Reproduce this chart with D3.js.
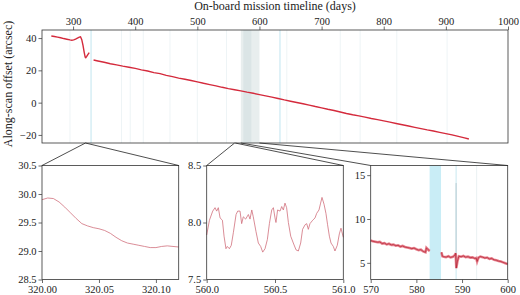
<!DOCTYPE html>
<html>
<head>
<meta charset="utf-8">
<script src="https://cdn.jsdelivr.net/npm/d3@7"></script>
<style>
  body { margin: 0; background: #fff; }
  svg { display: block; }
  text { font-family: "Liberation Serif", "DejaVu Serif", serif; fill: #222; }
  .axis path { display: none; }
  .axis line { stroke: #444; stroke-width: 0.8; }
</style>
</head>
<body>
<div id="chart"></div>
<script>
// top panel: full mission
const topDays = [265, 270, 275, 280, 285, 290, 295, 298, 301, 304, 307, 310, 312, 314, 316, 318, 319.5, 320.5, 322, 324, 326,
  null,
  333, 340, 350, 360, 370, 380, 390, 400, 410, 420, 430, 440, 450, 460, 470, 480, 490, 500, 510, 520, 530, 540, 550, 560,
  570, 580, 590, 600, 610, 620, 630, 640, 650, 660, 670, 680, 690, 700, 710, 720, 730, 740, 750, 760, 770, 780, 790, 800,
  810, 820, 830, 840, 850, 860, 870, 880, 890, 900, 910, 920, 930, 937];
const topOffset = [41.3, 41.0, 40.6, 40.2, 39.7, 39.3, 38.9, 38.7, 38.9, 39.4, 40.0, 40.6, 40.8, 39.0, 35.5, 31.0, 28.2, 27.8, 28.6, 29.9, 31.0,
  null,
  26.4, 25.8, 25.0, 24.1, 23.4, 22.6, 21.9, 21.2, 20.3, 19.6, 18.6, 18.0, 16.9, 16.1, 15.2, 14.5, 13.7, 12.9, 12.0, 11.2, 10.4, 9.5, 8.7, 8.0,
  7.3, 6.5, 5.8, 5.0, 4.2, 3.4, 2.6, 1.7, 0.9, 0.1, -0.7, -1.5, -2.4, -3.2, -4.1, -4.9, -5.8, -6.7, -7.5, -8.2, -9.0, -9.8, -10.5, -11.3,
  -12.1, -12.9, -13.7, -14.5, -15.3, -16.1, -16.9, -17.6, -18.4, -19.2, -20.0, -20.9, -21.8, -22.5];
const topXTicks = [300, 400, 500, 600, 700, 800, 900, 1000];
const topYTicks = [-20, 0, 20, 40];
const eventDays = [295, 378, 392, 413, 456, 500, 547, 644, 730, 762, 821, 902];
const blueDays = [329, 633];

// zoom 1
const z1Days = [320.000, 320.005, 320.010, 320.015, 320.020, 320.025, 320.030, 320.035, 320.040, 320.045, 320.050, 320.055,
  320.060, 320.065, 320.070, 320.075, 320.080, 320.085, 320.090, 320.095, 320.100, 320.105, 320.110, 320.115, 320.120];
const z1Offset = [29.90, 29.93, 29.92, 29.86, 29.77, 29.67, 29.57, 29.48, 29.44, 29.41, 29.39, 29.36,
  29.31, 29.24, 29.18, 29.14, 29.12, 29.10, 29.08, 29.06, 29.06, 29.08, 29.09, 29.08, 29.07];
const z1XTicks = [320.00, 320.05, 320.10];
const z1YTicks = [28.5, 29.0, 29.5, 30.0, 30.5];

// zoom 2
const z2Days = [560.000, 560.020, 560.044, 560.061, 560.073, 560.085, 560.098, 560.115, 560.127, 560.141, 560.151, 560.166,
  560.180, 560.195, 560.215, 560.227, 560.244, 560.256, 560.268, 560.285, 560.305, 560.317, 560.330, 560.341, 560.361,
  560.378, 560.395, 560.410, 560.427, 560.444, 560.459, 560.476, 560.488, 560.500, 560.507, 560.519, 560.537, 560.549,
  560.561, 560.573, 560.585, 560.598, 560.615, 560.634, 560.654, 560.671, 560.688, 560.702, 560.720, 560.732, 560.744,
  560.756, 560.776, 560.793, 560.805, 560.822, 560.834, 560.844, 560.859, 560.873, 560.885, 560.898, 560.910, 560.927,
  560.939, 560.956, 560.971, 560.983, 561.000];
const z2Offset = [7.89, 8.02, 8.10, 8.13, 8.10, 8.13, 8.04, 8.02, 7.88, 7.77, 7.79, 7.77,
  7.80, 7.91, 8.07, 8.10, 8.10, 7.99, 8.05, 8.03, 8.07, 8.03, 8.11, 8.05, 7.92,
  7.82, 7.79, 7.74, 7.77, 7.85, 7.99, 8.11, 8.13, 8.04, 8.00, 8.11, 8.10, 8.14,
  8.11, 8.17, 8.13, 8.00, 7.88, 7.82, 7.76, 7.75, 7.82, 7.94, 7.98, 7.99, 7.94,
  7.99, 8.02, 8.04, 8.08, 8.11, 8.17, 8.22, 8.16, 8.08, 7.98, 7.88, 7.82, 7.79,
  7.75, 7.80, 7.90, 7.95, 7.87];
const z2XTicks = [560.0, 560.5, 561.0];
const z2YTicks = [7.5, 8.0, 8.5];

// zoom 3
const z3Days = [570.0, 570.5, 571.0, 571.5, 572.0, 572.5, 573.0, 573.5, 574.0, 574.5, 575.0, 575.5, 576.0, 576.5, 577.0,
  577.5, 578.0, 578.5, 579.0, 579.5, 580.0, 580.5, 581.0, 581.5, 582.0, 582.2, 582.5, 582.9, null,
  585.5, 585.7, 586.0, 586.5, 587.0, 587.5, 588.0, 588.4, 588.6, 588.75, 589.0, 589.3, 589.8, 590.3, 590.8, 591.3,
  591.8, 592.3, 592.8, 593.1, 593.3, 593.6, 594.0, 594.5, 595.0, 595.5, 596.0, 596.5, 597.0, 597.5, 598.0, 598.5,
  599.0, 599.5, 600.0];
const z3Offset = [7.55, 7.45, 7.40, 7.35, 7.38, 7.20, 7.25, 7.10, 7.18, 7.05, 7.08, 6.95, 7.00, 6.85, 6.92,
  6.80, 6.75, 6.70, 6.62, 6.68, 6.55, 6.45, 6.50, 6.30, 6.20, 6.70, 6.55, 6.35, null,
  6.20, 5.75, 5.70, 5.65, 5.75, 5.62, 5.70, 5.85, 6.10, 4.40, 5.20, 5.75, 5.70, 5.78, 5.65, 5.70,
  5.60, 5.62, 5.50, 5.55, 5.15, 5.60, 5.72, 5.65, 5.55, 5.60, 5.45, 5.50, 5.35, 5.30, 5.20, 5.15,
  5.05, 4.95, 4.85];
const z3XTicks = [570, 580, 590, 600];
const z3YTicks = [5, 10, 15];

const width = 520, height = 295;
const svg = d3.select("#chart").append("svg")
  .attr("width", width).attr("height", height);

const red = "#d42a3c";

const styleTicks = g => g.selectAll("text")
  .attr("font-family", "'Liberation Serif', serif")
  .attr("font-size", 10.5)
  .attr("fill", "#222");

// top panel
const x = d3.scaleLinear().domain([250, 1000]).range([42, 508]);
const y = d3.scaleLinear().domain([-25, 45]).range([143, 30]);

svg.selectAll(".band")
  .data([[570, 600, "#e8eeee"], [574, 587, "#dbe5e6"]])
  .join("rect")
  .attr("x", d => x(d[0]))
  .attr("y", y.range()[1])
  .attr("width", d => x(d[1]) - x(d[0]))
  .attr("height", y.range()[0] - y.range()[1])
  .attr("fill", d => d[2]);

svg.selectAll(".evt")
  .data(eventDays)
  .join("line")
  .attr("x1", d => x(d)).attr("x2", d => x(d))
  .attr("y1", 30).attr("y2", 143)
  .attr("stroke", "#eef4f6").attr("stroke-width", 1);

svg.selectAll(".blue")
  .data(blueDays)
  .join("line")
  .attr("x1", d => x(d)).attr("x2", d => x(d))
  .attr("y1", 30).attr("y2", 143)
  .attr("stroke", "#d6eef5").attr("stroke-width", 1.5);

const topPts = topDays.map((d, i) => [d, topOffset[i]]);
const topLine = d3.line()
  .defined(d => d[0] !== null)
  .x(d => x(d[0])).y(d => y(d[1]));

svg.append("path")
  .attr("d", topLine(topPts))
  .attr("fill", "none").attr("stroke", red).attr("stroke-width", 1.4);

svg.append("rect")
  .attr("x", 42).attr("y", 30).attr("width", 466).attr("height", 113)
  .attr("fill", "none").attr("stroke", "#333").attr("stroke-width", 0.8);

svg.append("g").attr("class", "axis")
  .attr("transform", "translate(0,30)")
  .call(d3.axisTop(x).tickValues(topXTicks).tickFormat(d3.format("d")).tickSize(3.5).tickPadding(2).tickSizeOuter(0))
  .call(styleTicks);

svg.append("g").attr("class", "axis")
  .attr("transform", "translate(42,0)")
  .call(d3.axisLeft(y).tickValues(topYTicks).tickSize(3.5).tickPadding(2).tickFormat(d => d < 0 ? "\u2212" + Math.abs(d) : d))
  .call(styleTicks);

svg.append("text")
  .attr("x", 275).attr("y", 10)
  .attr("text-anchor", "middle")
  .attr("font-size", 12)
  .text("On-board mission timeline (days)");

svg.append("text")
  .attr("transform", "translate(12,84) rotate(-90)")
  .attr("text-anchor", "middle")
  .attr("font-size", 12)
  .text("Along-scan offset (arcsec)");

// zoom panels
const top2 = 165.5, bot2 = 279.5;
const panels = [
  { x0: 42, x1: 178.7, xd: [320, 320.12], yd: [28.5, 30.5], days: z1Days, vals: z1Offset,
    xt: z1XTicks, yt: z1YTicks, xf: d3.format(".2f"), yf: d3.format(".1f") },
  { x0: 206.7, x1: 343.3, xd: [560, 561], yd: [7.5, 8.5], days: z2Days, vals: z2Offset,
    xt: z2XTicks, yt: z2YTicks, xf: d3.format(".1f"), yf: d3.format(".1f") },
  { x0: 370.7, x1: 507.7, xd: [570, 600], yd: [3.1, 16.1], days: z3Days, vals: z3Offset,
    xt: z3XTicks, yt: z3YTicks, xf: d3.format("d"), yf: d3.format("d") }
];

panels.forEach((p, k) => {
  const px = d3.scaleLinear().domain(p.xd).range([p.x0, p.x1]);
  const py = d3.scaleLinear().domain(p.yd).range([bot2, top2]);
  const g = svg.append("g");

  if (k === 2) {
    g.append("rect")
      .attr("x", px(582.9)).attr("y", top2)
      .attr("width", px(585.4) - px(582.9)).attr("height", bot2 - top2)
      .attr("fill", "#c9edf6");
    g.append("line")
      .attr("x1", px(588.7)).attr("x2", px(588.7)).attr("y1", top2).attr("y2", bot2)
      .attr("stroke", "#c8e8f0").attr("stroke-width", 1);
    g.append("line")
      .attr("x1", px(588.7)).attr("x2", px(588.7)).attr("y1", py(14.1)).attr("y2", py(4.4))
      .attr("stroke", "#a9bcc3").attr("stroke-width", 0.7);
    g.append("line")
      .attr("x1", px(593.2)).attr("x2", px(593.2)).attr("y1", top2).attr("y2", bot2)
      .attr("stroke", "#eaf1f3").attr("stroke-width", 1);
  }

  const pts = p.days.map((d, i) => [d, p.vals[i]]);
  const line = d3.line()
    .defined(d => d[0] !== null)
    .x(d => px(d[0])).y(d => py(d[1]));

  if (k === 2) {
    g.append("path").attr("d", line(pts))
      .attr("fill", "none").attr("stroke", "#e0586a").attr("stroke-width", 2.6).attr("stroke-opacity", 0.75);
    g.append("path").attr("d", line(pts))
      .attr("fill", "none").attr("stroke", "#b0202f").attr("stroke-width", 0.7);
  } else {
    g.append("path").attr("d", line(pts))
      .attr("fill", "none").attr("stroke", "#d0707c").attr("stroke-width", 0.8);
  }

  g.append("rect")
    .attr("x", p.x0).attr("y", top2).attr("width", p.x1 - p.x0).attr("height", bot2 - top2)
    .attr("fill", "none").attr("stroke", "#333").attr("stroke-width", 0.8);

  g.append("g").attr("class", "axis")
    .attr("transform", `translate(0,${bot2})`)
    .call(d3.axisBottom(px).tickValues(p.xt).tickFormat(p.xf).tickSize(3.5).tickPadding(2.5).tickSizeOuter(0))
    .call(styleTicks);

  g.append("g").attr("class", "axis")
    .attr("transform", `translate(${p.x0},0)`)
    .call(d3.axisLeft(py).tickValues(p.yt).tickFormat(p.yf).tickSize(3.5).tickPadding(2).tickSizeOuter(0))
    .call(styleTicks);
});

// connector lines from top panel to zoom panels
const connectors = [
  [320, panels[0].x0], [320, panels[0].x1],
  [560, panels[1].x0], [561, panels[1].x1],
  [570, panels[2].x0], [600, panels[2].x1]
];
svg.selectAll(".conn")
  .data(connectors)
  .join("line")
  .attr("x1", d => x(d[0])).attr("y1", 143)
  .attr("x2", d => d[1]).attr("y2", top2)
  .attr("stroke", "#222").attr("stroke-width", 0.8);
</script>
</body>
</html>
